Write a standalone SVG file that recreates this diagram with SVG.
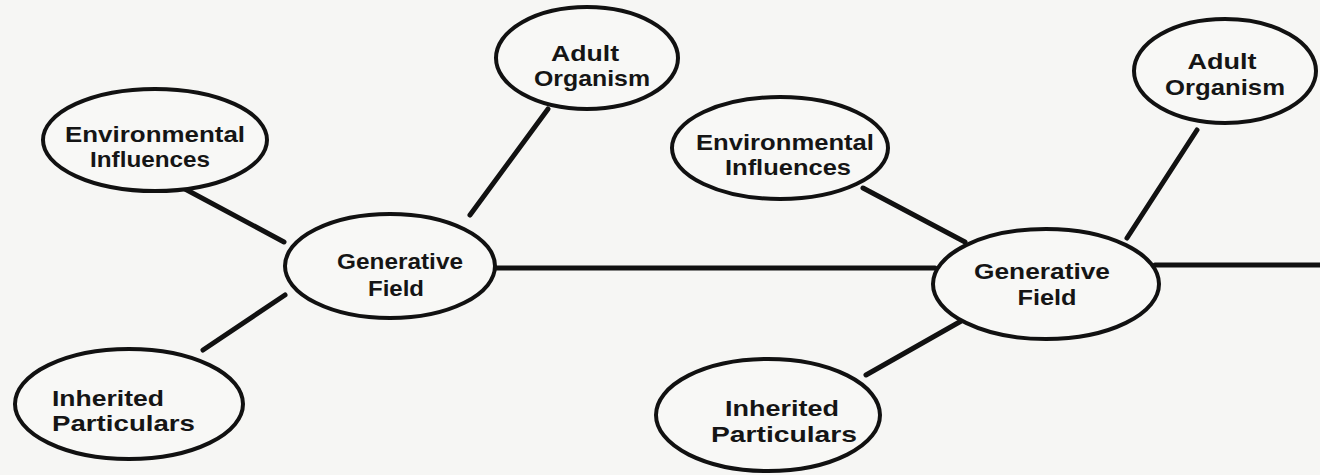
<svg xmlns="http://www.w3.org/2000/svg" width="1320" height="475" viewBox="0 0 1320 475">
<style>
.bg{fill:#f6f6f4}
.node ellipse{fill:#f8f8f6;stroke:#111;stroke-width:4}
.node text{font-family:"Liberation Sans",Arial,sans-serif;font-weight:bold;font-size:22px;fill:#151515}
.c{text-anchor:middle}
.edges line{stroke:#111;stroke-width:5;stroke-linecap:round}
</style>
<rect class="bg" x="0" y="0" width="1320" height="475"/>
<g id="connectors" class="edges">
<line x1="185" y1="189" x2="284" y2="242"/>
<line x1="548" y1="109" x2="470" y2="215"/>
<line x1="203" y1="350" x2="285" y2="295"/>
<line x1="492" y1="268" x2="935" y2="268"/>
<line x1="863" y1="188" x2="965" y2="242"/>
<line x1="1197" y1="130" x2="1127" y2="238"/>
<line x1="866" y1="375" x2="963" y2="320"/>
<line x1="1155" y1="265" x2="1320" y2="265"/>
</g>
<g id="envL" class="node">
<ellipse cx="155" cy="140" rx="112" ry="51"/>
<text class="c" x="155" y="142" textLength="180" lengthAdjust="spacingAndGlyphs">Environmental</text>
<text class="c" x="150" y="167" textLength="120" lengthAdjust="spacingAndGlyphs">Influences</text>
</g>
<g id="adultL" class="node">
<ellipse cx="587" cy="58" rx="91" ry="51"/>
<text class="c" x="585" y="61" textLength="68" lengthAdjust="spacingAndGlyphs">Adult</text>
<text class="c" x="592" y="86" textLength="116" lengthAdjust="spacingAndGlyphs">Organism</text>
</g>
<g id="genL" class="node">
<ellipse cx="390" cy="266" rx="105" ry="52"/>
<text class="c" x="400" y="269" textLength="126" lengthAdjust="spacingAndGlyphs">Generative</text>
<text class="c" x="396" y="296" textLength="56" lengthAdjust="spacingAndGlyphs">Field</text>
</g>
<g id="inhL" class="node">
<ellipse cx="129" cy="404" rx="114" ry="55"/>
<text x="52" y="406" textLength="112" lengthAdjust="spacingAndGlyphs">Inherited</text>
<text x="52" y="431" textLength="143" lengthAdjust="spacingAndGlyphs">Particulars</text>
</g>
<g id="envR" class="node">
<ellipse cx="780" cy="148" rx="108" ry="51"/>
<text class="c" x="785" y="150" textLength="178" lengthAdjust="spacingAndGlyphs">Environmental</text>
<text class="c" x="788" y="175" textLength="126" lengthAdjust="spacingAndGlyphs">Influences</text>
</g>
<g id="genR" class="node">
<ellipse cx="1046" cy="284" rx="113" ry="55"/>
<text class="c" x="1042" y="279" textLength="136" lengthAdjust="spacingAndGlyphs">Generative</text>
<text class="c" x="1047" y="305" textLength="59" lengthAdjust="spacingAndGlyphs">Field</text>
</g>
<g id="inhR" class="node">
<ellipse cx="768" cy="415" rx="112" ry="56"/>
<text class="c" x="782" y="416" textLength="114" lengthAdjust="spacingAndGlyphs">Inherited</text>
<text class="c" x="784" y="442" textLength="146" lengthAdjust="spacingAndGlyphs">Particulars</text>
</g>
<g id="adultR" class="node">
<ellipse cx="1225" cy="71" rx="91" ry="52"/>
<text class="c" x="1222" y="69" textLength="69" lengthAdjust="spacingAndGlyphs">Adult</text>
<text class="c" x="1225" y="95" textLength="120" lengthAdjust="spacingAndGlyphs">Organism</text>
</g>
</svg>
